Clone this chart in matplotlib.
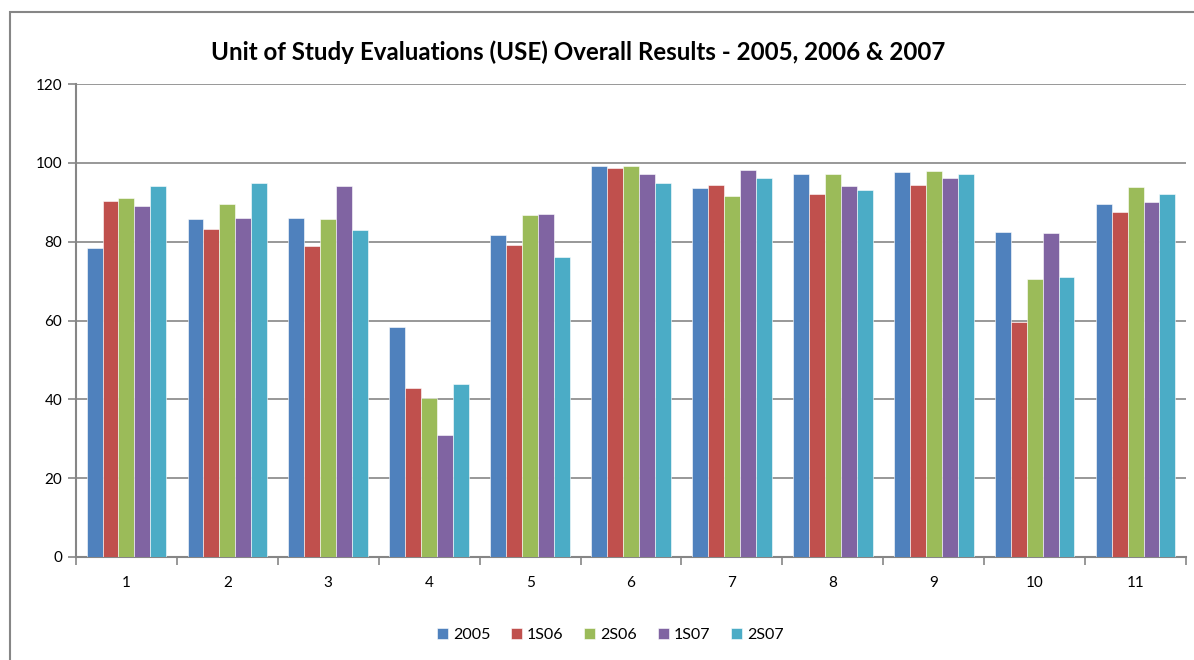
import matplotlib
matplotlib.use("Agg")
import matplotlib.pyplot as plt
import numpy as np
from matplotlib.patches import Rectangle

categories = ["1", "2", "3", "4", "5", "6", "7", "8", "9", "10", "11"]
series_names = ["2005", "1S06", "2S06", "1S07", "2S07"]
s2005 = [78.3, 85.7, 85.9, 58.3, 81.6, 99.1, 93.6, 97.1, 97.6, 82.5, 89.5]
s1S06 = [90.4, 83.2, 78.9, 42.8, 79.1, 98.7, 94.3, 92.0, 94.3, 59.6, 87.4]
s2S06 = [91.2, 89.5, 85.7, 40.3, 86.8, 99.1, 91.6, 97.1, 97.9, 70.5, 93.8]
s1S07 = [89.0, 86.0, 94.0, 30.9, 87.0, 97.1, 98.1, 94.0, 96.1, 82.1, 90.1]
s2S07 = [94.0, 95.0, 83.0, 43.9, 76.0, 95.0, 96.1, 93.1, 97.1, 71.0, 92.0]
series = [s2005, s1S06, s2S06, s1S07, s2S07]
colors = ["#4F81BD", "#C0504D", "#9BBB59", "#8064A2", "#4BACC6"]
yticks = [0, 20, 40, 60, 80, 100, 120]

plt.rcParams['font.family'] = ['Lato', 'DejaVu Sans']

fig = plt.figure(figsize=(11.94, 6.6), dpi=100)
fig.patches.append(Rectangle((10/1194, -0.1), 1.2, 1.1 - 12/660, transform=fig.transFigure,
                             fill=False, edgecolor="#868686", linewidth=1.5, zorder=0))

ax = fig.add_axes([76/1194, (660-557)/660, (1186-76)/1194, (557-84)/660])
x = np.arange(len(categories))
bw = 0.158
for i, (vals, c, name) in enumerate(zip(series, colors, series_names)):
    ax.bar(x + (i - 2) * bw, vals, width=bw, color=c, label=name,
           edgecolor="white", linewidth=0.4, zorder=3)

ax.set_xlim(-0.5, len(categories) - 0.5)
ax.set_ylim(0, 120)
ax.set_yticks(yticks)
ax.set_yticklabels([str(v) for v in yticks], fontsize=11)
ax.yaxis.grid(True, color="#868686", linewidth=1.2, zorder=0)
ax.set_axisbelow(True)
ax.set_xticks(x)
ax.set_xticklabels(categories, fontsize=11)
ax.tick_params(axis='x', length=0, pad=14)
ax.set_xticks(np.arange(-0.5, len(categories)), minor=True)
ax.tick_params(axis='x', which='minor', length=6, color="#868686", width=1.2)
ax.tick_params(axis='y', length=6, color="#868686", width=1.2, pad=4)
for s in ["top", "right"]:
    ax.spines[s].set_visible(False)
for s in ["left", "bottom"]:
    ax.spines[s].set_color("#868686")
    ax.spines[s].set_linewidth(1.5)

fig.text(0.484, 1 - 52/660, "Unit of Study Evaluations (USE) Overall Results - 2005, 2006 & 2007",
         ha="center", va="center", fontsize=17.4, fontweight="bold")

leg = fig.legend(loc="center", bbox_to_anchor=(0.511, 1 - 635/660), ncol=5, frameon=False,
                 fontsize=11.5, handlelength=0.7, handleheight=0.7, handletextpad=0.3,
                 columnspacing=1.3)

fig.savefig("out.png", dpi=100)
